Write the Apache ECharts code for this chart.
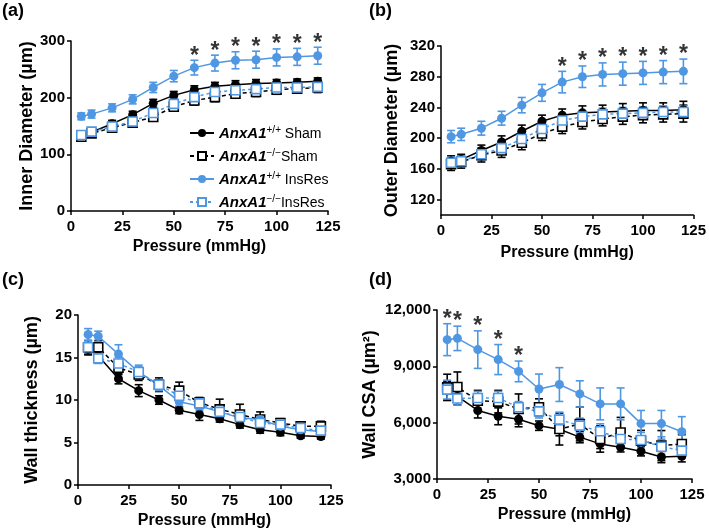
<!DOCTYPE html>
<html><head><meta charset="utf-8">
<script src="https://cdn.jsdelivr.net/npm/echarts@6/dist/echarts.min.js"></script>
<style>html,body{margin:0;padding:0;background:#fff}#c{width:709px;height:532px}</style>
</head><body><div id="c"></div>
<script>
// ---------- data ----------
const pressure = [5,10,20,30,40,50,60,70,80,90,100,110,120];

// (a) Inner diameter (µm)
const a_wtSham = [135,139,154,170,190,204,214,220,223,225,226,227,229];
const a_wtSham_err = [5,5,6,6,7,7,7,7,7,7,6,6,6];
const a_koSham = [131,137,147,156,166,184,195,201,207,210,214,216,218];
const a_koSham_err = [5,5,6,6,7,7,8,8,8,8,8,8,9];
const a_wtIR = [167,171,182,197,218,238,253,261,266,267,271,272,274];
const a_wtIR_err = [6,7,7,8,9,10,13,14,15,15,15,15,15];
const a_koIR = [134,140,149,158,173,189,201,210,213,215,218,218,219];
const a_koIR_err = [5,5,6,6,7,8,8,8,8,8,8,8,8];
const a_sig = [60,70,80,90,100,110,120];

// (b) Outer diameter (µm)
const b_wtSham = [170,172,184,195,209,222,230,233,234,235,236,236,237];
const b_wtSham_err = [7,7,7,8,8,8,8,9,9,10,10,10,11];
const b_koSham = [166,169,178,184,194,206,215,221,225,228,230,231,232];
const b_koSham_err = [8,8,9,9,9,9,9,9,9,10,10,10,11];
const b_wtIR = [202,205,213,226,243,259,273,280,283,284,285,286,287];
const b_wtIR_err = [8,8,9,9,10,11,14,14,15,15,15,15,16];
const b_koIR = [168,170,179,187,199,212,223,228,231,232,233,234,234];
const b_koIR_err = [7,7,7,8,8,8,8,8,8,8,8,8,8];
const b_sig = [60,70,80,90,100,110,120];
const b_yTicks = [120,160,200,240,280,320];

// (c) Wall thickness (µm)
const c_wtSham = [16.0,15.2,12.5,11.1,10.0,8.8,8.3,7.8,7.1,6.5,6.2,5.8,5.7];
const c_wtSham_err = [0.7,0.7,0.6,0.7,0.5,0.4,0.7,0.4,0.4,0.4,0.4,0.3,0.3];
const c_koSham = [16.2,16.2,13.8,13.0,11.8,11.1,9.7,8.9,8.3,7.7,7.3,6.9,6.9];
const c_koSham_err = [0.8,0.8,0.8,0.7,0.8,1.0,0.6,1.2,1.2,0.9,0.5,0.5,0.6];
const c_wtIR = [17.7,17.5,15.4,13.3,11.7,9.8,9.3,8.6,7.9,7.7,6.9,6.5,6.3];
const c_wtIR_err = [0.7,0.6,1.1,0.8,0.6,0.5,0.5,0.5,0.4,0.4,0.4,0.3,0.3];
const c_koIR = [16.2,14.9,14.3,13.3,11.8,10.5,9.6,8.6,8.0,7.3,7.1,6.7,6.4];
const c_koIR_err = [0.6,0.6,0.7,0.6,0.6,0.6,0.5,0.5,0.5,0.5,0.4,0.4,0.4];

// (d) Wall CSA (µm²)
const d_wtSham = [7700,7400,6650,6340,6180,5840,5650,5230,4870,4690,4480,4170,4210];
const d_wtSham_err = [500,450,400,450,400,250,350,300,250,250,250,300,300];
const d_koSham = [7880,7900,7170,7120,6730,6820,5660,5930,5130,5480,5040,4780,4860];
const d_koSham_err = [700,800,550,600,800,450,850,900,700,800,550,800,500];
const d_wtIR = [10420,10490,9890,9360,8730,7790,8030,7530,7000,7000,5950,5950,5520];
const d_wtIR_err = [850,650,1000,800,550,800,900,700,850,850,700,700,800];
const d_koIR = [7760,7290,7310,7310,6820,6600,6160,5840,5540,5130,5080,4720,4510];
const d_koIR_err = [500,350,350,350,300,350,400,400,400,350,400,400,400];
const d_sig = [5,10,20,30,40];

const seriesNames = ['wtSham','koSham','wtIR','koIR'];

// ---------- styling ----------
const BLUE = '#4f97e3';
const FONT = 'Liberation Sans, Arial, sans-serif';
const styles = {
  wtSham: {color:'#000', symbol:'circle', fill:'#000', dash:'solid'},
  koSham: {color:'#000', symbol:'rect', fill:'#fff', dash:[4,3]},
  wtIR:   {color:BLUE, symbol:'circle', fill:BLUE, dash:'solid'},
  koIR:   {color:BLUE, symbol:'rect', fill:'#fff', dash:[3,3]}
};
const panels = [
  {grid:{left:71,top:41,width:257,height:170}, y:{min:0,max:300,interval:100,name:'Inner Diameter (\u00b5m)',nameGap:35},
   data:{wtSham:[a_wtSham,a_wtSham_err],koSham:[a_koSham,a_koSham_err],wtIR:[a_wtIR,a_wtIR_err],koIR:[a_koIR,a_koIR_err]}, sig:a_sig, xGap:28},
  {grid:{left:441,top:46,width:254,height:169}, y:{min:100,max:320,custom:b_yTicks,name:'Outer Diameter (\u00b5m)',nameGap:40},
   data:{wtSham:[b_wtSham,b_wtSham_err],koSham:[b_koSham,b_koSham_err],wtIR:[b_wtIR,b_wtIR_err],koIR:[b_koIR,b_koIR_err]}, sig:b_sig, xGap:30},
  {grid:{left:78,top:315,width:253,height:170}, y:{min:0,max:20,interval:5,name:'Wall thickness (\u00b5m)',nameGap:37},
   data:{wtSham:[c_wtSham,c_wtSham_err],koSham:[c_koSham,c_koSham_err],wtIR:[c_wtIR,c_wtIR_err],koIR:[c_koIR,c_koIR_err]}, sig:[], xGap:28},
  {grid:{left:437,top:310,width:255,height:169}, y:{min:3000,max:12000,interval:3000,name:'Wall CSA (\u00b5m\u00b2)',nameGap:58,comma:true},
   data:{wtSham:[d_wtSham,d_wtSham_err],koSham:[d_koSham,d_koSham_err],wtIR:[d_wtIR,d_wtIR_err],koIR:[d_koIR,d_koIR_err]}, sig:d_sig, xGap:28}
];

function errRender(params, api){
  const x = api.value(0), y = api.value(1), e = api.value(2);
  const t = api.coord([x, y+e]), b = api.coord([x, y-e]);
  const hw = 4;
  const style = {stroke: api.visual('color'), lineWidth: 1.6};
  return {type:'group', children:[
    {type:'line', shape:{x1:t[0],y1:t[1],x2:b[0],y2:b[1]}, style},
    {type:'line', shape:{x1:t[0]-hw,y1:t[1],x2:t[0]+hw,y2:t[1]}, style},
    {type:'line', shape:{x1:b[0]-hw,y1:b[1],x2:b[0]+hw,y2:b[1]}, style}
  ]};
}

const grids=[], xAxes=[], yAxes=[], series=[];
const axisLine = {lineStyle:{color:'#000', width:1.5}};
const axisTick = {length:4, lineStyle:{color:'#000', width:1.5}};
const labelStyle = {color:'#000', fontSize:15, fontWeight:'bold', fontFamily:FONT};

panels.forEach((p, i) => {
  grids.push(p.grid);
  xAxes.push({gridIndex:i, type:'value', min:0, max:125, interval:25,
    axisLine, axisTick, splitLine:{show:false},
    axisLabel:Object.assign({margin:8}, labelStyle),
    name:'Pressure (mmHg)', nameLocation:'middle', nameGap:p.xGap,
    nameTextStyle:{color:'#000', fontSize:16, fontWeight:'bold', fontFamily:FONT}});
  const y = {gridIndex:i, type:'value', min:p.y.min, max:p.y.max,
    axisLine:Object.assign({show:true}, axisLine), axisTick:Object.assign({show:true}, axisTick), splitLine:{show:false},
    axisLabel:Object.assign({margin:6, formatter: v => p.y.comma ? v.toLocaleString('en-US') : String(v)}, labelStyle),
    name:p.y.name, nameLocation:'middle', nameGap:p.y.nameGap,
    nameTextStyle:{color:'#000', fontSize:18, fontWeight:'bold', fontFamily:FONT}};
  if (p.y.custom) {
    y.axisTick.customValues = p.y.custom;
    y.axisLabel.customValues = p.y.custom;
  } else {
    y.interval = p.y.interval;
  }
  yAxes.push(y);

  seriesNames.forEach(k => {
    const [vals, errs] = p.data[k];
    series.push({type:'custom', name:'err', xAxisIndex:i, yAxisIndex:i, z:1,
      itemStyle:{color:styles[k].color}, renderItem:errRender, silent:true,
      encode:{x:0,y:1}, data: pressure.map((x,j)=>[x, vals[j], errs[j]])});
  });
  seriesNames.forEach(k => {
    const s = styles[k];
    const [vals] = p.data[k];
    series.push({type:'line', name:k, xAxisIndex:i, yAxisIndex:i, z:2,
      symbol:s.symbol, symbolSize:9, showAllSymbol:true,
      lineStyle:{color:s.color, width:1.5, type:s.dash},
      itemStyle:{color:s.fill, borderColor:s.color, borderWidth:s.fill==='#fff'?1.6:0},
      emphasis:{disabled:true},
      data: pressure.map((x,j)=>[x, vals[j]])});
  });
  if (p.sig.length) {
    const [vals, errs] = p.data.wtIR;
    series.push({type:'scatter', name:'sig', xAxisIndex:i, yAxisIndex:i, symbolSize:0, z:3,
      label:{show:true, position:'inside', formatter:'*', offset:[0,-4], color:'#000', fontSize:23, fontWeight:'bold', fontFamily:FONT},
      data: p.sig.map(x => { const j = pressure.indexOf(x); return [x, vals[j]+errs[j]]; })});
  }
});

const legendNames = {wtSham:['+/+',' Sham'], koSham:['\u2212/\u2212','Sham'], wtIR:['+/+',' InsRes'], koIR:['\u2212/\u2212','InsRes']};

const option = {
  animation:false,
  grid:grids, xAxis:xAxes, yAxis:yAxes, series,
  legend:{data:seriesNames, orient:'vertical', left:184, top:120, itemWidth:24, itemHeight:10, itemGap:7,
    selectedMode:false,
    formatter: n => '{i|AnxA1}{s|' + legendNames[n][0] + '}{t|' + legendNames[n][1] + '}',
    textStyle:{fontFamily:FONT, color:'#000', rich:{
      i:{fontSize:15, fontStyle:'italic', fontWeight:'bold', fontFamily:FONT, color:'#000', lineHeight:16, verticalAlign:'bottom'},
      s:{fontSize:10, fontFamily:FONT, color:'#000', lineHeight:10, verticalAlign:'top'},
      t:{fontSize:14, fontFamily:FONT, color:'#000', lineHeight:16, verticalAlign:'bottom'}
    }}},
  graphic:[
    {type:'text', left:2, top:2, style:{text:'(a)', font:'bold 18px '+FONT, fill:'#000'}},
    {type:'text', left:369, top:2, style:{text:'(b)', font:'bold 18px '+FONT, fill:'#000'}},
    {type:'text', left:2, top:271, style:{text:'(c)', font:'bold 18px '+FONT, fill:'#000'}},
    {type:'text', left:369, top:271, style:{text:'(d)', font:'bold 18px '+FONT, fill:'#000'}}
  ]
};
const chart = echarts.init(document.getElementById('c'), null, {renderer:'canvas'});
chart.setOption(option);
</script></body></html>
